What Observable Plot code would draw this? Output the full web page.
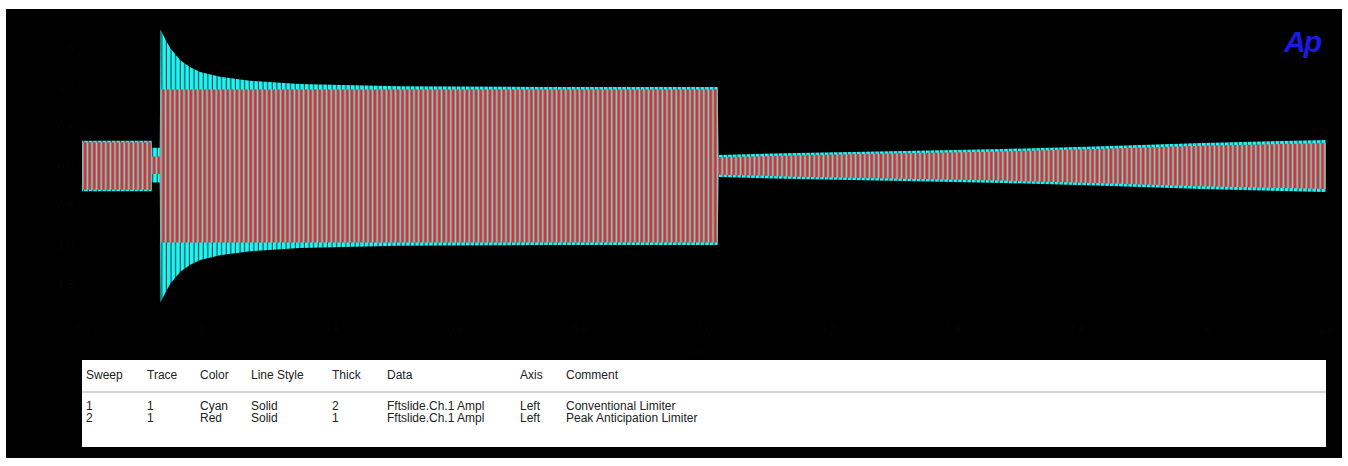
<!DOCTYPE html>
<html>
<head>
<meta charset="utf-8">
<script src="https://cdn.jsdelivr.net/npm/d3@7"></script>
<script src="https://cdn.jsdelivr.net/npm/@observablehq/plot@0.6"></script>
<style>
  html, body { margin: 0; padding: 0; background: #ffffff; }
  body { width: 1348px; height: 466px; position: relative; overflow: hidden; font-family: "Liberation Sans", Arial, sans-serif; }
  #panel { position: absolute; left: 6px; top: 9px; width: 1336px; height: 449px; background: #000; }
  #chart { position: absolute; left: 0; top: 0; }
  #logo { position: absolute; left: 1278px; top: 18px; font: italic bold 30px "Liberation Sans", Arial, sans-serif; color: #1a1ae8; line-height: 1; letter-spacing: -2px; }
  #legend { position: absolute; left: 76px; top: 351px; width: 1244px; height: 87px; background: #fff; color: #222; font-size: 12px; }
  #legend table { border-collapse: collapse; table-layout: fixed; width: 100%; }
  #legend td { padding: 0 0 0 4px; white-space: nowrap; line-height: 11.5px; }
  #legend tr.head td { height: 31px; border-bottom: 2px solid #d4d4d4; vertical-align: middle; }
  #legend tr.first td { padding-top: 8px; }
  #chart svg text { fill: #060606; }
</style>
</head>
<body>
<svg width="0" height="0" style="position:absolute">
  <defs>
    <pattern id="redwave" patternUnits="userSpaceOnUse" width="4.6" height="10">
      <rect x="0" y="0" width="4.6" height="10" fill="#4a5e5e"/>
      <rect x="0" y="0" width="1.8" height="10" fill="#e42a2a"/>
      <rect x="2.3" y="0" width="1.8" height="10" fill="#aabcbc"/>
    </pattern>
    <pattern id="cyanwave" patternUnits="userSpaceOnUse" width="4.6" height="10">
      <rect x="0" y="0" width="4.6" height="10" fill="#0d4848"/>
      <rect x="0" y="0" width="3.5" height="10" fill="#22f4f4"/>
    </pattern>
  </defs>
</svg>
<div id="panel">
  <div id="chart"></div>
  <div id="logo">Ap</div>
  <div id="legend"></div>
</div>
<script>
// ---- Data (time in seconds, peak amplitude) ----
// Sweep 1 – Cyan – Conventional Limiter (envelope of the waveform)
const cyanTime = [0, 0.112, 0.1121, 0.125, 0.1262, 0.133, 0.142, 0.158, 0.174, 0.19, 0.222, 0.27, 0.35, 0.51, 0.75, 1.022, 1.0235, 1.15, 1.32, 1.48, 1.64, 1.80, 2.0];
const cyanHigh = [0.32, 0.32, 0.23, 0.23, 1.73, 1.62, 1.49, 1.34, 1.25, 1.19, 1.13, 1.08, 1.04, 1.01, 1.00, 1.00, 0.14, 0.165, 0.19, 0.215, 0.25, 0.29, 0.33];
const cyanLow  = [-0.32, -0.32, -0.21, -0.21, -1.73, -1.62, -1.49, -1.34, -1.25, -1.19, -1.13, -1.08, -1.04, -1.01, -1.00, -1.00, -0.14, -0.165, -0.19, -0.215, -0.25, -0.29, -0.33];

// Sweep 2 – Red – Peak Anticipation Limiter
const redTime = [0, 0.112, 0.1121, 0.125, 0.1262, 0.35, 0.75, 1.022, 1.0235, 1.15, 1.32, 1.48, 1.64, 1.80, 2.0];
const redHigh = [0.30, 0.30, 0.12, 0.12, 0.97, 0.97, 0.97, 0.97, 0.11, 0.135, 0.16, 0.185, 0.22, 0.255, 0.29];
const redLow  = [-0.30, -0.30, -0.10, -0.10, -0.97, -0.97, -0.97, -0.97, -0.11, -0.135, -0.16, -0.185, -0.22, -0.255, -0.29];

// Legend table
const legendHeaders = ["Sweep", "Trace", "Color", "Line Style", "Thick", "Data", "Axis", "Comment"];
const legendRows = [
  ["1", "1", "Cyan", "Solid", "2", "Fftslide.Ch.1 Ampl", "Left", "Conventional Limiter"],
  ["2", "1", "Red", "Solid", "1", "Fftslide.Ch.1 Ampl", "Left", "Peak Anticipation Limiter"]
];
const legendWidths = [61, 53, 51, 81, 55, 133, 46, null];

// ---- Build tables ----
const cyan = cyanTime.map((t, i) => ({t, hi: cyanHigh[i], lo: cyanLow[i]}));
const red = redTime.map((t, i) => ({t, hi: redHigh[i], lo: redLow[i]}));

const chart = Plot.plot({
  width: 1336,
  height: 350,
  marginLeft: 76,
  marginRight: 16,
  marginTop: 7,
  marginBottom: 43,
  style: {background: "#000", color: "#060606", fontSize: "11px", fontFamily: "Liberation Sans, Arial, sans-serif"},
  x: {domain: [0, 2.0], label: "sec", labelAnchor: "center", ticks: 10, tickSize: 0},
  y: {domain: [-1.9, 1.9], label: null, ticks: 8, tickSize: 0},
  marks: [
    Plot.areaY(cyan, {x: "t", y1: "lo", y2: "hi", fill: "url(#cyanwave)"}),
    Plot.areaY(red, {x: "t", y1: "lo", y2: "hi", fill: "url(#redwave)"})
  ]
});
document.getElementById("chart").appendChild(chart);

// Legend
const tbl = document.createElement("table");
const cg = document.createElement("colgroup");
legendWidths.forEach(w => { const c = document.createElement("col"); if (w) c.style.width = w + "px"; cg.appendChild(c); });
tbl.appendChild(cg);
const hr = document.createElement("tr"); hr.className = "head";
legendHeaders.forEach(h => { const td = document.createElement("td"); td.textContent = h; hr.appendChild(td); });
tbl.appendChild(hr);
legendRows.forEach((r, i) => {
  const tr = document.createElement("tr"); if (i === 0) tr.className = "first";
  r.forEach(v => { const td = document.createElement("td"); td.textContent = v; tr.appendChild(td); });
  tbl.appendChild(tr);
});
document.getElementById("legend").appendChild(tbl);
</script>
</body>
</html>
